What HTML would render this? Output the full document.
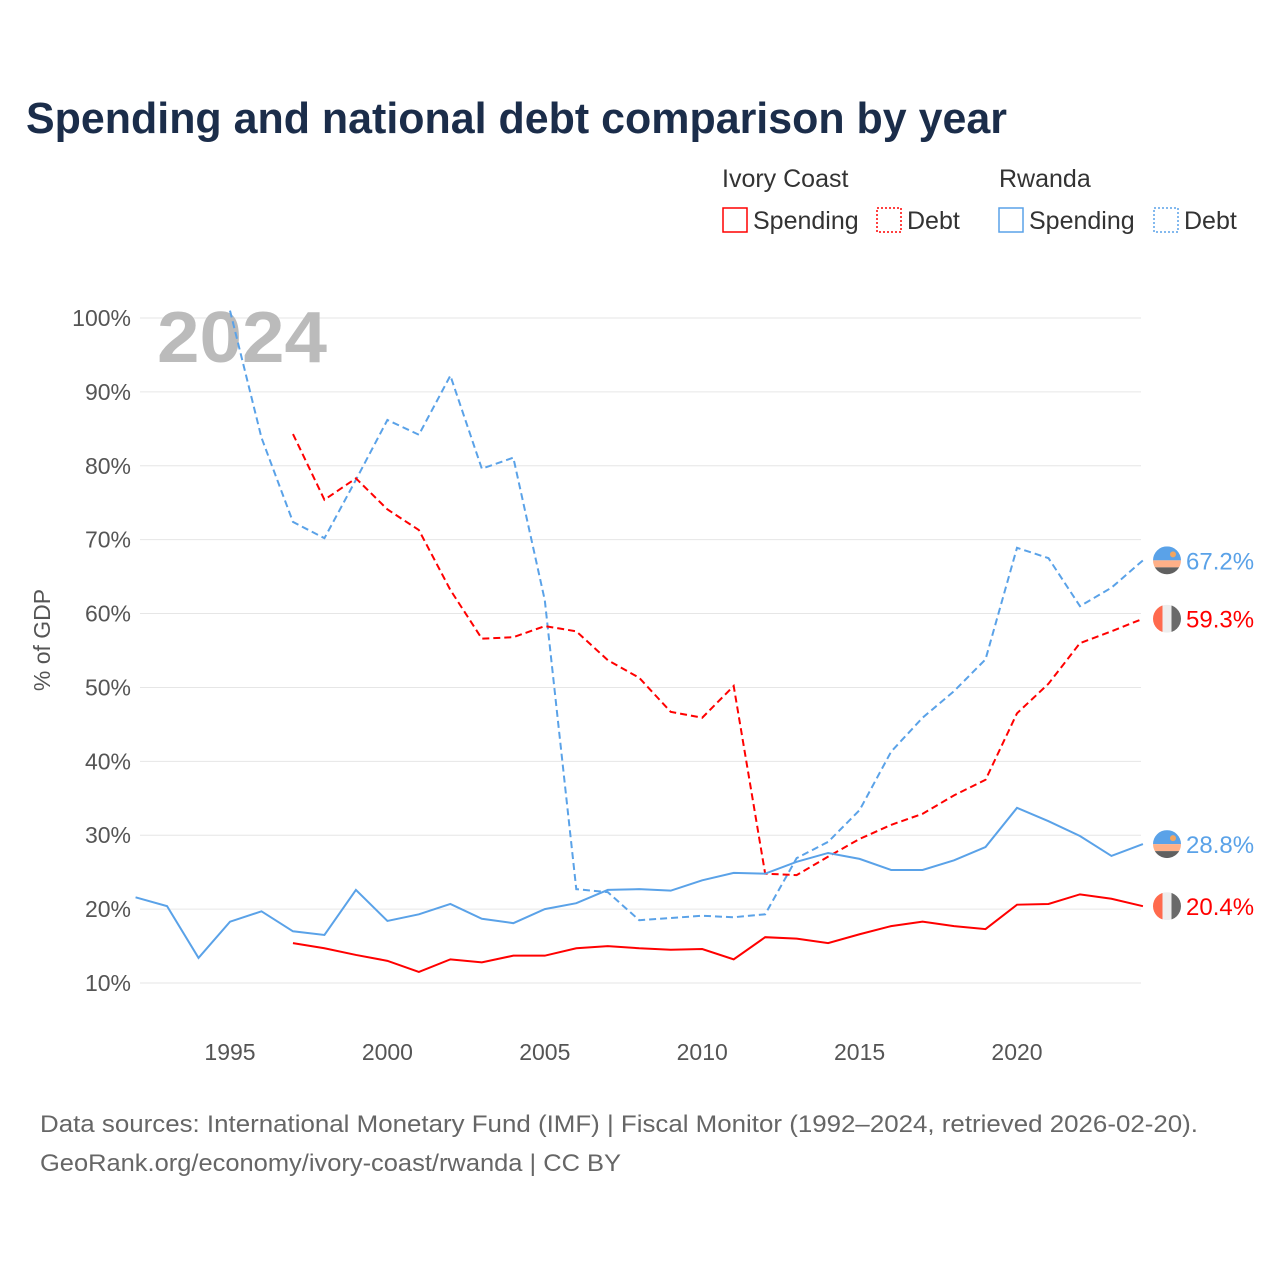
<!DOCTYPE html>
<html><head><meta charset="utf-8"><style>
body{margin:0;background:#fff;width:1280px;height:1280px;overflow:hidden;font-family:"Liberation Sans",sans-serif}
svg text{font-family:"Liberation Sans",sans-serif}
</style></head><body>
<svg width="1280" height="1280">
<text x="26" y="133" font-size="44" font-weight="bold" fill="#1b2d4a" textLength="981" lengthAdjust="spacingAndGlyphs">Spending and national debt comparison by year</text>
<g font-size="25" fill="#333">
<text x="722" y="187" fill="#333">Ivory Coast</text>
<text x="999" y="187" fill="#333">Rwanda</text>
<rect x="723" y="208" width="24" height="24" fill="none" stroke="#f00" stroke-width="1.5"/>
<text x="753" y="229">Spending</text>
<rect x="877" y="208" width="24" height="24" fill="none" stroke="#f00" stroke-width="1.5" stroke-dasharray="2,2"/>
<text x="907" y="229">Debt</text>
<rect x="999" y="208" width="24" height="24" fill="none" stroke="#5aa2e8" stroke-width="1.5"/>
<text x="1029" y="229">Spending</text>
<rect x="1154" y="208" width="24" height="24" fill="none" stroke="#5aa2e8" stroke-width="1.5" stroke-dasharray="2,2"/>
<text x="1184" y="229">Debt</text>
</g>
<g id="grid"></g>
<text x="157" y="362" font-size="72" font-weight="bold" fill="#bbb" textLength="170" lengthAdjust="spacingAndGlyphs">2024</text>
<text transform="translate(50,640) rotate(-90)" text-anchor="middle" font-size="23" fill="#555">% of GDP</text>
<g id="plot"></g>
<text x="40" y="1132" font-size="24" fill="#666" textLength="1158" lengthAdjust="spacingAndGlyphs">Data sources: International Monetary Fund (IMF) | Fiscal Monitor (1992–2024, retrieved 2026-02-20).</text>
<text x="40" y="1171" font-size="24" fill="#666" textLength="581" lengthAdjust="spacingAndGlyphs">GeoRank.org/economy/ivory-coast/rwanda | CC BY</text>
</svg>
<script>
const yTicks=[10,20,30,40,50,60,70,80,90,100];
const xTicks=[1995,2000,2005,2010,2015,2020];
const rwYears=[1992,1993,1994,1995,1996,1997,1998,1999,2000,2001,2002,2003,2004,2005,2006,2007,2008,2009,2010,2011,2012,2013,2014,2015,2016,2017,2018,2019,2020,2021,2022,2023,2024];
const rwSpending=[21.6,20.4,13.4,18.3,19.7,17.0,16.5,22.6,18.4,19.3,20.7,18.7,18.1,20.0,20.8,22.6,22.7,22.5,23.9,24.9,24.8,26.4,27.6,26.8,25.3,25.3,26.6,28.4,33.7,31.9,29.9,27.2,28.8];
const rwDebtYears=[1995,1996,1997,1998,1999,2000,2001,2002,2003,2004,2005,2006,2007,2008,2009,2010,2011,2012,2013,2014,2015,2016,2017,2018,2019,2020,2021,2022,2023,2024];
const rwDebt=[101,83.8,72.4,70.2,78.1,86.2,84.2,92.2,79.6,81.1,61.8,22.7,22.3,18.5,18.8,19.1,18.9,19.3,26.9,29.1,33.4,41.3,45.9,49.5,53.8,68.9,67.5,61.0,63.5,67.2];
const icYears=[1997,1998,1999,2000,2001,2002,2003,2004,2005,2006,2007,2008,2009,2010,2011,2012,2013,2014,2015,2016,2017,2018,2019,2020,2021,2022,2023,2024];
const icSpending=[15.4,14.7,13.8,13.0,11.5,13.2,12.8,13.7,13.7,14.7,15.0,14.7,14.5,14.6,13.2,16.2,16.0,15.4,16.6,17.7,18.3,17.7,17.3,20.6,20.7,22.0,21.4,20.4];
const icDebt=[84.3,75.4,78.3,74.1,71.3,63.2,56.6,56.8,58.3,57.6,53.7,51.3,46.7,45.9,50.2,24.8,24.6,27.1,29.5,31.4,32.9,35.4,37.5,46.5,50.5,56.0,57.6,59.3];
const NS='http://www.w3.org/2000/svg';
const X=yr=>230+(yr-1995)*31.48;
const Y=v=>318+(100-v)*7.389;
function mk(t,a,p){const e=document.createElementNS(NS,t);for(const k in a)e.setAttribute(k,a[k]);p.appendChild(e);return e;}
const grid=document.getElementById('grid'),plot=document.getElementById('plot');
yTicks.forEach(v=>{
 const l=mk('line',{x1:140,x2:1141,y1:Y(v),y2:Y(v),stroke:'#e6e6e6','stroke-width':1},grid);
 
 
 const t=mk('text',{x:131,y:Y(v)+8,'text-anchor':'end','font-size':23,fill:'#555'},grid);t.textContent=v+'%';
 
 
});
xTicks.forEach(yr=>{
 const t=mk('text',{x:X(yr),y:1060,'text-anchor':'middle','font-size':23,fill:'#555'},grid);t.textContent=yr;
 
 
});
function line(years,vals,color,dash,name){
 const p=mk('polyline',{points:years.map((y,i)=>X(y)+','+Y(vals[i])).join(' '),fill:'none',stroke:color,'stroke-width':2,'stroke-dasharray':dash||'none'},plot);
 
 
}
line(rwDebtYears,rwDebt,'#5aa2e8','7,4','rwanda-debt-line');
line(icYears,icDebt,'#f00','7,4','ivory-coast-debt-line');
line(rwYears,rwSpending,'#5aa2e8','','rwanda-spending-line');
line(icYears,icSpending,'#f00','','ivory-coast-spending-line');
function flag(v,country,color,name){
 const cx=1167,cy=Y(v),r=14;
 const g=mk('g',{},plot);
 
 
 const id='c'+name;
 const cp=mk('clipPath',{id:id},g);mk('circle',{cx:cx,cy:cy,r:r},cp);
 if(country==='rw'){
  mk('rect',{x:cx-r,y:cy-r,width:28,height:14,fill:'#5aa2e8','clip-path':'url(#'+id+')'},g);
  mk('rect',{x:cx-r,y:cy,width:28,height:7,fill:'#ffb088','clip-path':'url(#'+id+')'},g);
  mk('rect',{x:cx-r,y:cy+7,width:28,height:7,fill:'#606060','clip-path':'url(#'+id+')'},g);
  mk('circle',{cx:cx+6,cy:cy-6,r:3,fill:'#f3a560'},g);
 }else{
  mk('rect',{x:cx-r,y:cy-r,width:9.5,height:28,fill:'#ff6a4d','clip-path':'url(#'+id+')'},g);
  mk('rect',{x:cx-4.5,y:cy-r,width:9,height:28,fill:'#eee','clip-path':'url(#'+id+')'},g);
  mk('rect',{x:cx+4.5,y:cy-r,width:9.5,height:28,fill:'#6a6a6a','clip-path':'url(#'+id+')'},g);
 }
 const t=mk('text',{x:1186,y:cy+9,'font-size':24,fill:color},plot);t.textContent=v.toFixed(1)+'%';
 
 
}
flag(rwDebt[rwDebt.length-1],'rw','#5aa2e8','rwanda-debt');
flag(icDebt[icDebt.length-1],'ic','#f00','ivory-coast-debt');
flag(rwSpending[rwSpending.length-1],'rw','#5aa2e8','rwanda-spending');
flag(icSpending[icSpending.length-1],'ic','#f00','ivory-coast-spending');
</script>
</body></html>
